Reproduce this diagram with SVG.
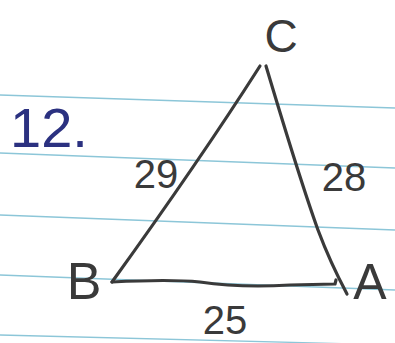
<svg xmlns="http://www.w3.org/2000/svg" width="395" height="343" viewBox="0 0 395 343">
<style>
.rule{stroke:#8cc6d8;stroke-width:1.3;fill:none}
.edge{stroke:#3a3a3a;stroke-width:3.2;fill:none;stroke-linecap:round;stroke-linejoin:round}
.lbl{font-family:"Liberation Sans",Arial,sans-serif;fill:#3a3a3a;font-weight:300}
</style>
<rect width="395" height="343" fill="#ffffff"/>
<g id="paper">
<line class="rule" x1="0" y1="95" x2="395" y2="108"/>
<line class="rule" x1="0" y1="153" x2="395" y2="168"/>
<line class="rule" x1="0" y1="215" x2="395" y2="230"/>
<line class="rule" x1="0" y1="275" x2="395" y2="290"/>
<line class="rule" x1="0" y1="335" x2="395" y2="345"/>
</g>
<g id="connectors">
<path class="edge" d="M260 66 Q200 160 112 282"/>
<path class="edge" d="M266 66 Q300 180 318 230 Q330 262 347 294"/>
<path class="edge" d="M112 282 Q170 279 200 282 Q240 288 290 285 L335 284 L336 280"/>
</g>
<g id="C"><text class="lbl" x="281" y="52" font-size="46" text-anchor="middle">C</text></g>
<g id="B"><text class="lbl" x="84" y="299" font-size="52" text-anchor="middle">B</text></g>
<g id="A"><text class="lbl" x="370" y="299" font-size="50" text-anchor="middle">A</text></g>
<g id="num"><text x="10" y="147" font-family="Liberation Sans,Arial,sans-serif" font-size="56" fill="#2b3180">12.</text></g>
<g id="l29"><text class="lbl" x="156" y="188" font-size="40" text-anchor="middle">29</text></g>
<g id="l28"><text class="lbl" x="344" y="191" font-size="40" text-anchor="middle">28</text></g>
<g id="l25"><text class="lbl" x="225" y="334" font-size="40" text-anchor="middle">25</text></g>
</svg>
